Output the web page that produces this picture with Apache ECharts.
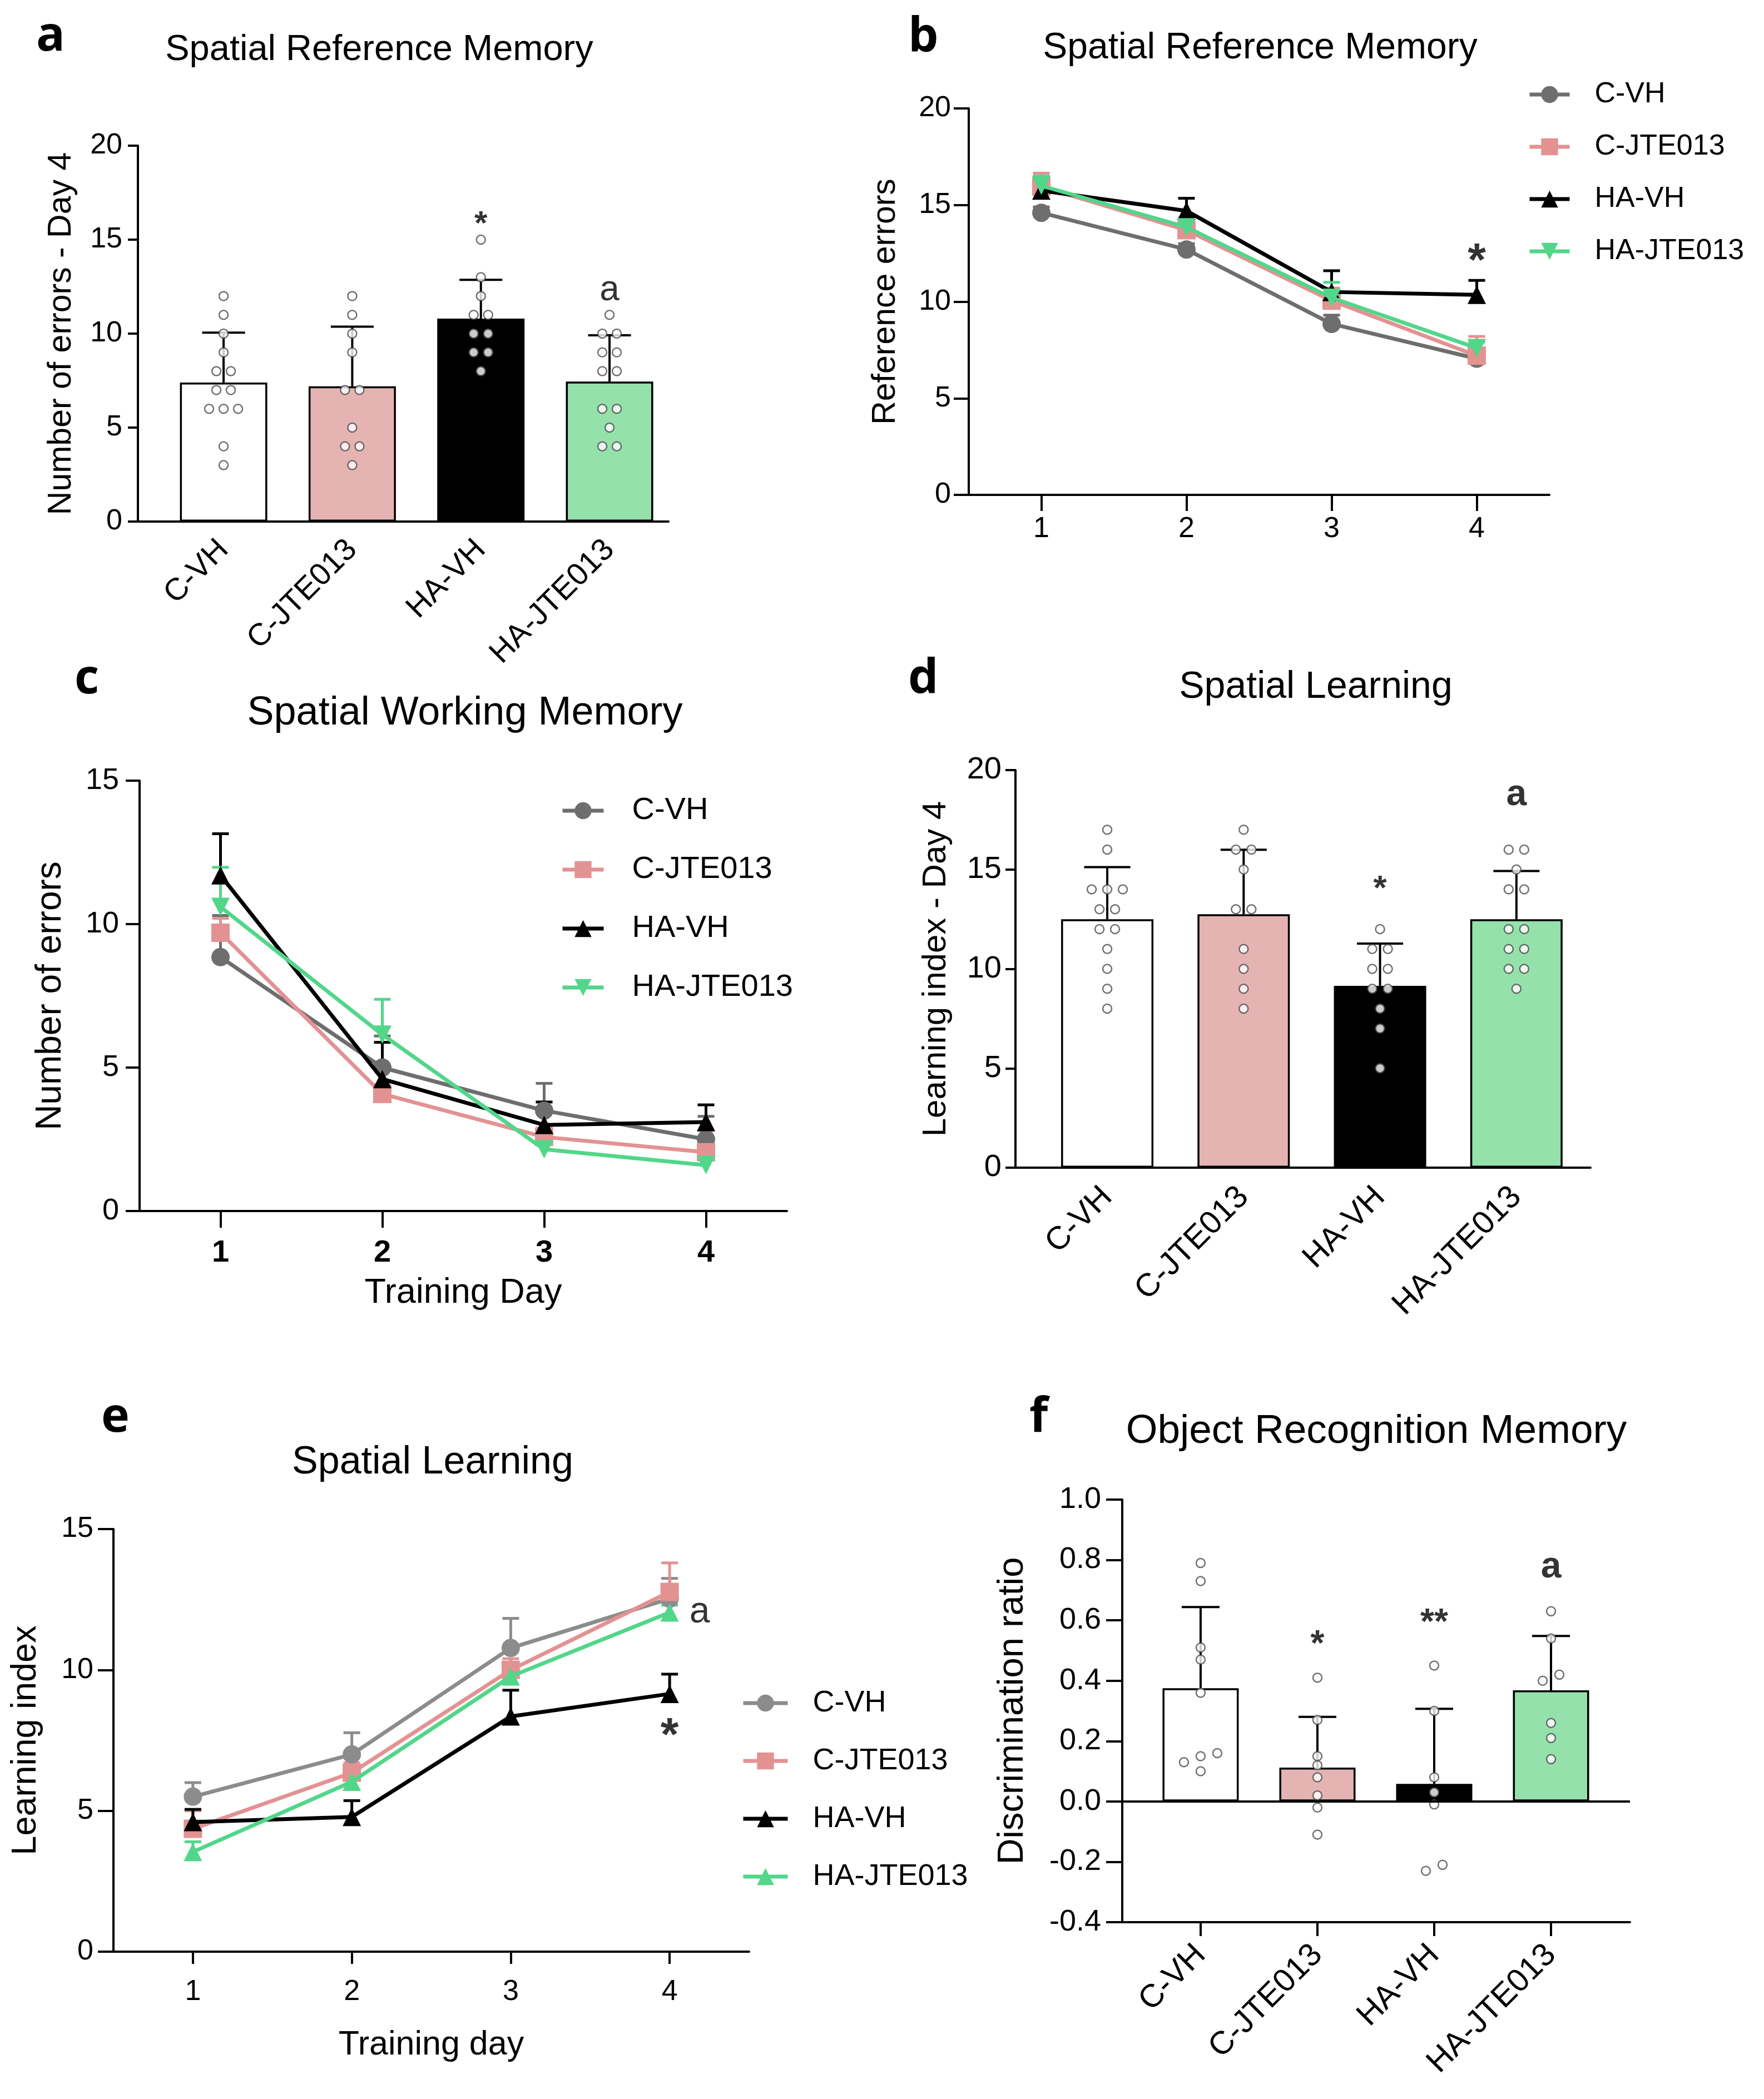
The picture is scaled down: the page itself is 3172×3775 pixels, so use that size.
<!DOCTYPE html>
<html>
<head>
<meta charset="utf-8">
<script src="https://cdn.jsdelivr.net/npm/echarts@6/dist/echarts.min.js"></script>
<style>
html, body { margin: 0; padding: 0; background: #fff; }
#page { position: relative; width: 3172px; height: 3775px; background: #fff; }
</style>
</head>
<body>
<div id="page"></div>
<script>
// ---- data ----
var groups = ['C-VH', 'C-JTE013', 'HA-VH', 'HA-JTE013'];
var days = ['1', '2', '3', '4'];

// a: errors on day 4 (bar = mean, err = top of error bar, dots = single animals)
var aMean = [7.4, 7.2, 10.8, 7.45];
var aErr = [10.05, 10.37, 12.86, 9.91];
var aDots = [
    [12, 11, 10, 9, 8, 8, 7, 7, 6, 6, 6, 4, 3],
    [12, 11, 10, 9, 7, 7, 5, 4, 4, 3],
    [15, 13, 12, 11, 11, 10, 10, 9, 9, 8],
    [11, 10, 10, 9, 9, 8, 8, 6, 6, 5, 4, 4]
];
var aMarks = [['*', 2, 15.8], ['a', 3, 12.3]];

// b: reference errors per training day
var bCVH = [14.6, 12.7, 8.85, 7.05];
var bCVHErr = [14.9, 13.0, 9.3, 7.4];
var bCJTE = [15.95, 13.7, 10.05, 7.2];
var bCJTEErr = [16.65, 14.2, 10.7, 8.2];
var bHAVH = [15.75, 14.7, 10.5, 10.35];
var bHAVHErr = [16.45, 15.35, 11.6, 11.1];
var bHAJTE = [16.0, 13.85, 10.2, 7.6];
var bHAJTEErr = [16.5, 14.3, 11.0, 7.9];
var bMarks = [['*', 3, 12.0]];

// c: working memory errors per training day
var cCVH = [8.85, 5.0, 3.5, 2.5];
var cCVHErr = [10.3, 6.1, 4.45, 3.3];
var cCJTE = [9.7, 4.08, 2.58, 2.05];
var cCJTEErr = [10.2, 4.4, 2.9, 2.8];
var cHAVH = [11.7, 4.6, 3.0, 3.1];
var cHAVHErr = [13.15, 5.88, 3.8, 3.7];
var cHAJTE = [10.6, 6.15, 2.15, 1.6];
var cHAJTEErr = [11.98, 7.38, 2.4, 1.8];

// d: learning index on day 4
var dMean = [12.5, 12.75, 9.15, 12.5];
var dErr = [15.12, 15.99, 11.27, 14.92];
var dDots = [
    [17, 16, 14, 14, 14, 13, 13, 12, 12, 11, 10, 9, 8],
    [17, 16, 16, 15, 13, 13, 11, 10, 9, 8],
    [12, 11, 11, 10, 10, 9, 9, 8, 7, 5],
    [16, 16, 15, 14, 14, 12, 12, 11, 11, 10, 10, 9]
];
var dMarks = [['*', 2, 14.0], ['a', 3, 18.75]];

// e: learning index per training day
var eCVH = [5.5, 7.0, 10.78, 12.53];
var eCVHErr = [6.0, 7.77, 11.83, 13.25];
var eCJTE = [4.36, 6.35, 10.0, 12.77];
var eCJTEErr = [5.0, 6.7, 10.4, 13.8];
var eHAVH = [4.6, 4.78, 8.35, 9.15];
var eHAVHErr = [5.05, 5.36, 9.28, 9.85];
var eHAJTE = [3.54, 6.03, 9.77, 12.04];
var eHAJTEErr = [3.9, 6.4, 10.1, 12.3];
var eMarks = [['a', 3, 12.05], ['*', 3, 7.6]];

// f: object recognition, discrimination ratio
var fMean = [0.375, 0.112, 0.058, 0.368];
var fErr = [0.644, 0.28, 0.307, 0.548];
var fDots = [
    [0.79, 0.73, 0.51, 0.47, 0.36, 0.16, 0.15, 0.13, 0.10],
    [0.41, 0.27, 0.15, 0.12, 0.08, 0.02, -0.02, -0.11],
    [0.45, 0.30, 0.08, 0.03, -0.01, -0.21, -0.23],
    [0.63, 0.54, 0.42, 0.40, 0.26, 0.21, 0.14]
];
var fMarks = [['*', 1, 0.516], ['**', 2, 0.589], ['a', 3, 0.776]];

// ---- styling ----
var SANS = '"Liberation Sans", Arial, sans-serif';
var LETTER = '"Open Sans", "DejaVu Sans", sans-serif';
var barFill = ['#ffffff', '#e5b4b2', '#000000', '#95e1ab'];
var PINK = '#e39292', GREEN = '#52d68a', GREY = '#6e6e6e', LIGHTGREY = '#8c8c8c';
var DOWN = 'path://M0,0 L10,0 L5,9 Z';

// where each panel's canvas sits on the page [x, y, w, h]
var boxes = {
    a: [0, 0, 1560, 1198],
    b: [1560, 0, 1612, 1150],
    c: [0, 1198, 1560, 1212],
    d: [1560, 1150, 1612, 1260],
    e: [0, 2410, 1760, 1365],
    f: [1760, 2410, 1412, 1365]
};

function mount(key, build) {
    var b = boxes[key];
    var div = document.createElement('div');
    div.style.cssText = 'position:absolute;left:' + b[0] + 'px;top:' + b[1] + 'px;width:' + b[2] + 'px;height:' + b[3] + 'px';
    document.getElementById('page').appendChild(div);
    var chart = echarts.init(div, null, { renderer: 'canvas' });
    chart.setOption(build(b[0], b[1]));
}

// letter + title, page coordinates
function header(p, ox, oy) {
    return [
        { type: 'text', x: p.letter[1] - ox, y: p.letter[2] - oy,
          style: { text: p.letter[0], fontFamily: LETTER, fontWeight: 'bold', fontSize: 86, fill: '#000', align: 'left', verticalAlign: 'middle' } },
        { type: 'text', x: p.title[1] - ox, y: p.title[2] - oy,
          style: { text: p.title[0], fontFamily: SANS, fontSize: p.title[3], fill: '#000', align: 'center', verticalAlign: 'middle' } }
    ];
}

function yAxisOf(p) {
    return {
        type: 'value', min: p.yMin, max: p.yMax, interval: p.yStep,
        name: p.yName, nameLocation: 'middle', nameGap: p.yNameGap, nameRotate: 90,
        nameTextStyle: { fontFamily: SANS, fontSize: p.yNameSize, color: '#000' },
        axisLine: { show: true, onZero: false, lineStyle: { color: '#000', width: 4 } },
        axisTick: { show: true, inside: false, length: p.yTickLen, lineStyle: { color: '#000', width: 4 } },
        axisLabel: { fontFamily: SANS, fontSize: p.yLabelSize, color: '#000', margin: p.yLabelMargin, formatter: p.yFmt },
        splitLine: { show: false }
    };
}

// upward error bar: stem from mean to top, cap at top
function errorBars(color, cap, lw) {
    return function (params, api) {
        var base = api.coord([api.value(0), api.value(1)]);
        var top = api.coord([api.value(0), api.value(2)]);
        var st = { stroke: color, lineWidth: lw };
        return { type: 'group', children: [
            { type: 'line', shape: { x1: base[0], y1: base[1], x2: top[0], y2: top[1] }, style: st },
            { type: 'line', shape: { x1: top[0] - cap / 2, y1: top[1], x2: top[0] + cap / 2, y2: top[1] }, style: st }
        ] };
    };
}

// side-by-side slots for values that sit on top of each other
function spread(vals, tol) {
    var idx = vals.map(function (v, i) { return i; }).sort(function (p, q) { return vals[p] - vals[q]; });
    var slot = [];
    var start = 0;
    for (var k = 1; k <= idx.length; k++) {
        if (k === idx.length || vals[idx[k]] - vals[idx[k - 1]] > tol) {
            var n = k - start;
            for (var j = start; j < k; j++) slot[idx[j]] = (j - start) - (n - 1) / 2;
            start = k;
        }
    }
    return slot;
}

function marksSeries(marks, styles, xShift) {
    return {
        type: 'scatter', symbolSize: 1, silent: true, z: 10,
        itemStyle: { color: 'rgba(0,0,0,0)' },
        label: { show: true, position: 'inside', color: '#000', fontFamily: SANS },
        data: marks.map(function (m) {
            var st = styles[m[0]];
            return { value: [m[1] + xShift, m[2]],
                     label: { formatter: m[0], fontSize: st.size, fontWeight: st.weight, offset: st.offset || [0, 0] } };
        })
    };
}

function barPanel(p) {
    return function (ox, oy) {
        var unit = p.width / (p.xMax - p.xMin);
        var dots = [];
        p.dots.forEach(function (list, g) {
            var slot = spread(list, p.tol);
            list.forEach(function (v, k) {
                dots.push([g + 1 + slot[k] * p.jitter / unit, v]);
            });
        });
        var bar = {
            type: 'bar', barWidth: p.barWidth, silent: true, z: 2,
            itemStyle: { borderColor: '#000', borderWidth: 3.5 },
            data: p.mean.map(function (v, i) { return { value: [i + 1, v], itemStyle: { color: barFill[i] } }; })
        };
        if (p.zeroLine) {
            bar.markLine = { silent: true, symbol: 'none', label: { show: false },
                             lineStyle: { color: '#000', width: 4, type: 'solid' }, data: [{ yAxis: 0 }] };
        }
        return {
            animation: false,
            backgroundColor: 'transparent',
            graphic: header(p, ox, oy),
            grid: { left: p.left - ox, top: p.top - oy, width: p.width, height: p.height, containLabel: false, outerBoundsMode: 'none' },
            xAxis: {
                type: 'value', min: p.xMin, max: p.xMax,
                axisLine: { show: true, onZero: false, lineStyle: { color: '#000', width: 4 } },
                axisTick: p.xTick ? { show: true, customValues: [1, 2, 3, 4], length: p.xTick, lineStyle: { color: '#000', width: 4 } } : { show: false },
                axisLabel: {
                    customValues: [1, 2, 3, 4], rotate: 45, margin: p.catMargin,
                    fontFamily: SANS, fontSize: p.catSize, color: '#000',
                    formatter: function (v) { return groups[Math.round(v) - 1]; }
                },
                splitLine: { show: false }
            },
            yAxis: yAxisOf(p),
            series: [
                bar,
                { type: 'custom', silent: true, z: 3, renderItem: errorBars('#000', p.cap, 4),
                  encode: { x: 0, y: [1, 2] },
                  data: p.mean.map(function (v, i) { return [i + 1, v, p.err[i]]; }) },
                { type: 'scatter', silent: true, z: 4, symbolSize: 16, data: dots,
                  itemStyle: { color: '#fff', borderColor: '#4d4d4d', borderWidth: 2.5 } },
                marksSeries(p.marks, p.markStyle, 1)
            ]
        };
    };
}

function linePanel(p) {
    return function (ox, oy) {
        var series = [];
        p.lines.forEach(function (l, k) {
            series.push({ type: 'custom', silent: true, z: 2, renderItem: errorBars(l.color, 30, 5),
                          encode: { x: 0, y: [1, 2] },
                          data: l.values.map(function (v, i) { return [i, v, l.errs[i]]; }) });
        });
        p.lines.forEach(function (l, k) {
            series.push({ type: 'line', name: l.name, data: l.values, z: 3 + k,
                          symbol: l.symbol, symbolSize: 33, color: l.color,
                          lineStyle: { color: l.color, width: 7 },
                          itemStyle: { color: l.color } });
        });
        if (p.marks) series.push(marksSeries(p.marks, p.markStyle, 0));
        var xAxis = {
            type: 'category', data: days, boundaryGap: true,
            axisLine: { show: true, onZero: false, lineStyle: { color: '#000', width: 4 } },
            axisTick: { show: true, alignWithLabel: true, length: p.xTickLen, lineStyle: { color: '#000', width: 4 } },
            axisLabel: { fontFamily: SANS, fontSize: p.xLabelSize, fontWeight: p.xLabelWeight || 'normal', color: '#000', margin: p.xLabelMargin },
            splitLine: { show: false }
        };
        if (p.xName) {
            xAxis.name = p.xName;
            xAxis.nameLocation = 'middle';
            xAxis.nameGap = p.xNameGap;
            xAxis.nameTextStyle = { fontFamily: SANS, fontSize: p.xNameSize, color: '#000' };
        }
        return {
            animation: false,
            backgroundColor: 'transparent',
            graphic: header(p, ox, oy),
            grid: { left: p.left - ox, top: p.top - oy, width: p.width, height: p.height, containLabel: false, outerBoundsMode: 'none' },
            legend: {
                orient: 'vertical', left: p.legend.left - ox, top: p.legend.top - oy,
                itemWidth: p.legend.itemWidth, itemHeight: 38, itemGap: p.legend.gap,
                selectedMode: false, data: groups,
                lineStyle: { width: 7 },
                textStyle: { fontFamily: SANS, fontSize: p.legend.size, color: '#000', padding: [0, 0, 0, p.legend.pad] }
            },
            xAxis: xAxis,
            yAxis: yAxisOf(p),
            series: series
        };
    };
}

mount('a', barPanel({
    letter: ['a', 65, 66], title: ['Spatial Reference Memory', 682, 90, 65],
    left: 248, top: 262, width: 954, height: 676, xMin: 0.334, xMax: 4.458,
    yMin: 0, yMax: 20, yStep: 5, yName: 'Number of errors - Day 4', yNameGap: 108, yNameSize: 59,
    yTickLen: 18, yLabelSize: 52, yLabelMargin: 28,
    catSize: 56, catMargin: 42, xTick: 0,
    barWidth: 157, cap: 77, jitter: 26, tol: 0.01,
    mean: aMean, err: aErr, dots: aDots, marks: aMarks,
    markStyle: { '*': { size: 60, weight: 'bold' }, 'a': { size: 64, weight: 'normal' } }
}));

mount('b', linePanel({
    letter: ['b', 1633, 68], title: ['Spatial Reference Memory', 2266, 87, 66],
    left: 1742, top: 195, width: 1044, height: 695,
    yMin: 0, yMax: 20, yStep: 5, yName: 'Reference errors', yNameGap: 120, yNameSize: 59,
    yTickLen: 27, yLabelSize: 52, yLabelMargin: 32,
    xTickLen: 29, xLabelSize: 52, xLabelMargin: 36,
    legend: { left: 2742, top: 139, itemWidth: 72, gap: 42, size: 52, pad: 40 },
    lines: [
        { name: 'C-VH', values: bCVH, errs: bCVHErr, color: GREY, symbol: 'circle' },
        { name: 'C-JTE013', values: bCJTE, errs: bCJTEErr, color: PINK, symbol: 'rect' },
        { name: 'HA-VH', values: bHAVH, errs: bHAVHErr, color: '#000000', symbol: 'triangle' },
        { name: 'HA-JTE013', values: bHAJTE, errs: bHAJTEErr, color: GREEN, symbol: DOWN }
    ],
    marks: bMarks, markStyle: { '*': { size: 84, weight: 'bold' } }
}));

mount('c', linePanel({
    letter: ['c', 134, 1222], title: ['Spatial Working Memory', 836, 1283, 72],
    left: 251, top: 1404, width: 1164, height: 774,
    yMin: 0, yMax: 15, yStep: 5, yName: 'Number of errors', yNameGap: 128, yNameSize: 64,
    yTickLen: 25, yLabelSize: 54, yLabelMargin: 37,
    xTickLen: 30, xLabelSize: 56, xLabelWeight: 'bold', xLabelMargin: 48,
    xName: 'Training Day', xNameGap: 116, xNameSize: 63,
    legend: { left: 1003, top: 1425, itemWidth: 74, gap: 50, size: 56, pad: 46 },
    lines: [
        { name: 'C-VH', values: cCVH, errs: cCVHErr, color: GREY, symbol: 'circle' },
        { name: 'C-JTE013', values: cCJTE, errs: cCJTEErr, color: PINK, symbol: 'rect' },
        { name: 'HA-VH', values: cHAVH, errs: cHAVHErr, color: '#000000', symbol: 'triangle' },
        { name: 'HA-JTE013', values: cHAJTE, errs: cHAJTEErr, color: GREEN, symbol: DOWN }
    ]
}));

mount('d', barPanel({
    letter: ['d', 1633, 1222], title: ['Spatial Learning', 2366, 1236, 68],
    left: 1826, top: 1385, width: 1034, height: 715, xMin: 0.327, xMax: 4.543,
    yMin: 0, yMax: 20, yStep: 5, yName: 'Learning index - Day 4', yNameGap: 113, yNameSize: 60,
    yTickLen: 18, yLabelSize: 56, yLabelMargin: 25,
    catSize: 58, catMargin: 44, xTick: 0,
    barWidth: 166, cap: 83, jitter: 28, tol: 0.01,
    mean: dMean, err: dErr, dots: dDots, marks: dMarks,
    markStyle: { '*': { size: 62, weight: 'bold' }, 'a': { size: 66, weight: 'bold' } }
}));

mount('e', linePanel({
    letter: ['e', 182, 2550], title: ['Spatial Learning', 778, 2631, 70],
    left: 204, top: 2750, width: 1143, height: 760,
    yMin: 0, yMax: 15, yStep: 5, yName: 'Learning index', yNameGap: 126, yNameSize: 63,
    yTickLen: 28, yLabelSize: 52, yLabelMargin: 36,
    xTickLen: 22, xLabelSize: 52, xLabelMargin: 47,
    xName: 'Training day', xNameGap: 138, xNameSize: 61,
    legend: { left: 1328, top: 3031, itemWidth: 80, gap: 50, size: 54, pad: 40 },
    lines: [
        { name: 'C-VH', values: eCVH, errs: eCVHErr, color: LIGHTGREY, symbol: 'circle' },
        { name: 'C-JTE013', values: eCJTE, errs: eCJTEErr, color: PINK, symbol: 'rect' },
        { name: 'HA-VH', values: eHAVH, errs: eHAVHErr, color: '#000000', symbol: 'triangle' },
        { name: 'HA-JTE013', values: eHAJTE, errs: eHAJTEErr, color: GREEN, symbol: 'triangle' }
    ],
    marks: eMarks, markStyle: { 'a': { size: 66, weight: 'normal', offset: [54, 0] }, '*': { size: 84, weight: 'bold' } }
}));

mount('f', barPanel({
    letter: ['f', 1851, 2550], title: ['Object Recognition Memory', 2475, 2575, 73],
    left: 2018, top: 2697, width: 913, height: 760, xMin: 0.329, xMax: 4.676,
    yMin: -0.4, yMax: 1.0, yStep: 0.2, yName: 'Discrimination ratio', yNameGap: 164, yNameSize: 65,
    yTickLen: 29, yLabelSize: 54, yLabelMargin: 38,
    yFmt: function (v) { return v.toFixed(1); },
    catSize: 58, catMargin: 50, xTick: 25,
    barWidth: 137, cap: 68, jitter: 30, tol: 0.025, zeroLine: true,
    mean: fMean, err: fErr, dots: fDots, marks: fMarks,
    markStyle: { '*': { size: 64, weight: 'bold' }, '**': { size: 64, weight: 'bold' }, 'a': { size: 66, weight: 'bold' } }
}));
</script>
</body>
</html>
